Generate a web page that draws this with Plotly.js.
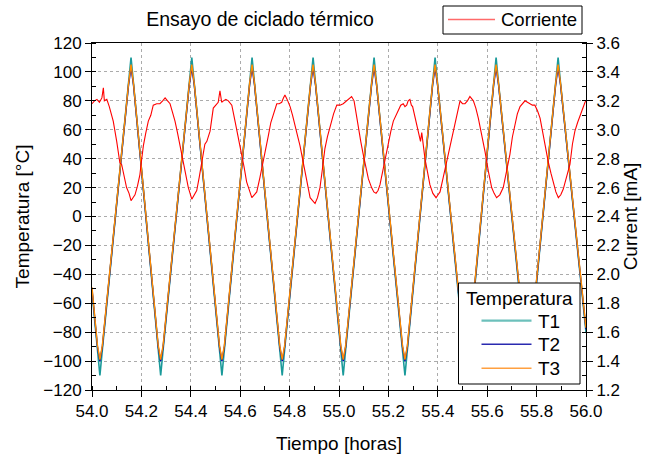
<!DOCTYPE html>
<html>
<head>
<meta charset="utf-8">
<script src="https://cdn.plot.ly/plotly-3.0.1.min.js"></script>
<style>html,body{margin:0;padding:0;background:#fff}#chart{width:646px;height:457px}</style>
</head>
<body>
<div id="chart"></div>
<script>
// Temperature series (hours, °C)
const tTemp = [54.0,
 54.022,54.032,54.042, 54.148,54.158,54.168,
 54.268,54.278,54.288, 54.394,54.404,54.414,
 54.516,54.526,54.536, 54.638,54.648,54.658,
 54.760,54.770,54.780, 54.885,54.895,54.905,
 55.007,55.017,55.027, 55.132,55.142,55.152,
 55.257,55.267,55.277, 55.379,55.389,55.399,
 55.506,55.516,55.526, 55.626,55.636,55.646,
 55.754,55.764,55.774, 55.877,55.887,55.897,
 56.0];
const T1 = [-52,
 -92,-110,-92, 92,110,92,
 -92,-110,-92, 92,110,92,
 -92,-110,-92, 92,110,92,
 -92,-110,-92, 92,110,92,
 -92,-110,-92, 92,110,92,
 -92,-110,-92, 92,110,92,
 -92,-110,-92, 92,110,92,
 -92,-110,-92, 92,110,92,
 -80];
const T2 = [-50,
 -90,-100,-90, 91,103,91,
 -90,-100,-90, 91,103,91,
 -90,-100,-90, 91,103,91,
 -90,-100,-90, 91,103,91,
 -90,-100,-90, 91,103,91,
 -90,-100,-90, 91,103,91,
 -90,-100,-90, 91,103,91,
 -90,-100,-90, 91,103,91,
 -78];
const T3 = [-49,
 -89,-99,-89, 92,105,92,
 -89,-99,-89, 92,105,92,
 -89,-99,-89, 92,105,92,
 -89,-99,-89, 92,105,92,
 -89,-99,-89, 92,105,92,
 -89,-99,-89, 92,105,92,
 -89,-99,-89, 92,105,92,
 -89,-99,-89, 92,105,92,
 -77];

// Current series (hours, mA)
const tCur = [54.000,54.010,54.020,54.030,54.040,54.046,54.050,54.060,54.070,54.086,54.100,54.113,54.120,54.130,54.140,54.150,54.158,54.166,54.174,54.184,54.194,54.200,54.208,54.218,54.228,54.238,54.248,54.262,54.275,54.286,54.296,54.306,54.316,54.326,54.336,54.346,54.356,54.366,54.377,54.390,54.404,54.414,54.424,54.434,54.444,54.450,54.457,54.465,54.478,54.491,54.500,54.511,54.518,54.525,54.532,54.542,54.552,54.566,54.579,54.592,54.606,54.616,54.626,54.636,54.647,54.657,54.667,54.680,54.694,54.704,54.714,54.724,54.734,54.748,54.758,54.768,54.775,54.781,54.790,54.802,54.812,54.822,54.832,54.842,54.852,54.862,54.872,54.883,54.893,54.903,54.913,54.923,54.933,54.943,54.953,54.964,54.978,54.991,55.004,55.017,55.031,55.041,55.051,55.061,55.070,55.078,55.088,55.098,55.108,55.119,55.132,55.141,55.150,55.158,55.166,55.176,55.186,55.193,55.200,55.210,55.220,55.230,55.240,55.250,55.260,55.267,55.274,55.280,55.287,55.293,55.298,55.306,55.314,55.322,55.330,55.335,55.340,55.348,55.358,55.368,55.380,55.393,55.401,55.409,55.422,55.436,55.450,55.463,55.476,55.490,55.500,55.510,55.520,55.530,55.544,55.554,55.564,55.578,55.591,55.605,55.618,55.628,55.638,55.651,55.665,55.678,55.692,55.702,55.712,55.722,55.733,55.743,55.753,55.763,55.773,55.783,55.793,55.804,55.814,55.820,55.827,55.837,55.847,55.858,55.868,55.878,55.888,55.898,55.908,55.920,55.935,55.945,55.955,55.966,55.976,55.986,55.996,56.000];
const current = [3.18,3.20,3.21,3.19,3.22,3.29,3.20,3.21,3.16,3.06,2.92,2.77,2.76,2.67,2.60,2.56,2.51,2.53,2.55,2.61,2.69,2.78,2.89,2.98,3.06,3.10,3.17,3.18,3.18,3.20,3.22,3.20,3.18,3.12,3.06,2.98,2.89,2.80,2.69,2.60,2.52,2.55,2.58,2.67,2.78,2.84,2.90,2.92,2.99,3.15,3.17,3.19,3.27,3.19,3.20,3.21,3.20,3.17,3.06,2.95,2.85,2.74,2.64,2.58,2.53,2.55,2.57,2.67,2.78,2.88,2.96,3.05,3.11,3.18,3.18,3.19,3.22,3.24,3.21,3.16,3.10,3.02,2.96,2.89,2.80,2.71,2.62,2.53,2.51,2.49,2.53,2.60,2.73,2.87,2.95,3.02,3.11,3.17,3.17,3.18,3.20,3.21,3.23,3.20,3.10,3.02,2.92,2.83,2.74,2.66,2.60,2.57,2.56,2.58,2.62,2.71,2.80,2.86,2.92,2.99,3.06,3.10,3.14,3.17,3.18,3.16,3.17,3.20,3.21,3.17,3.16,3.10,3.03,2.98,2.92,2.98,2.90,2.80,2.71,2.62,2.56,2.53,2.55,2.57,2.67,2.78,2.90,3.01,3.11,3.20,3.18,3.18,3.20,3.23,3.20,3.15,3.08,2.97,2.85,2.71,2.60,2.56,2.53,2.55,2.60,2.71,2.83,2.95,3.04,3.11,3.16,3.18,3.20,3.19,3.18,3.17,3.17,3.13,3.08,3.02,2.96,2.87,2.78,2.70,2.64,2.57,2.53,2.55,2.59,2.67,2.76,2.90,2.99,3.05,3.10,3.15,3.19,3.20];

const seriesNames = ['Corriente', 'T1', 'T2', 'T3'];
const seriesColors = ['#ff0000', '#1a9a9a', '#0000a8', '#ff8c00'];
const legendTitle = 'Temperatura';

const FONT = 'Liberation Sans, Arial, sans-serif';
const L = 92, R = 586, T = 43, B = 390;
const px = v => (v - L) / (R - L);
const py = v => 1 - (v - T) / (B - T);

const traces = [
  {x: tCur, y: current, yaxis: 'y2', type: 'scatter', mode: 'lines', name: seriesNames[0],
   line: {color: seriesColors[0], width: 1.1}},
  {x: tTemp, y: T1, type: 'scatter', mode: 'lines', name: seriesNames[1],
   line: {color: seriesColors[1], width: 1.6}},
  {x: tTemp, y: T2, type: 'scatter', mode: 'lines', name: seriesNames[2],
   line: {color: seriesColors[2], width: 1.4}},
  {x: tTemp, y: T3, type: 'scatter', mode: 'lines', name: seriesNames[3],
   line: {color: seriesColors[3], width: 1.4}}
];

// Legend boxes drawn as shapes + annotations (two separate legends as in the original)
const shapes = [
  {type: 'rect', xref: 'paper', yref: 'paper', x0: px(443), x1: px(582), y0: py(6), y1: py(34),
   line: {color: '#000', width: 1}, fillcolor: '#fff', layer: 'above'},
  {type: 'line', xref: 'paper', yref: 'paper', x0: px(448), x1: px(495), y0: py(19.5), y1: py(19.5),
   line: {color: '#ff6a6a', width: 1.6}, layer: 'above'},
  {type: 'rect', xref: 'paper', yref: 'paper', x0: px(458.5), x1: px(580), y0: py(283), y1: py(384),
   line: {color: '#000', width: 1}, fillcolor: '#fff', layer: 'above'}
];
const annotations = [
  {text: seriesNames[0], xref: 'paper', yref: 'paper', x: px(499), y: py(20), xanchor: 'left', yanchor: 'middle',
   showarrow: false, font: {size: 18.5, family: FONT, color: '#000'}},
  {text: legendTitle, xref: 'paper', yref: 'paper', x: px(519.5), y: py(298.5), xanchor: 'center', yanchor: 'middle',
   showarrow: false, font: {size: 19, family: FONT, color: '#000'}}
];
const legY = [320.7, 344.3, 368.3];
const legLineColors = ['#6cc0bb', '#2a2ab0', '#ffa040'];
for (let i = 0; i < 3; i++) {
  shapes.push({type: 'line', xref: 'paper', yref: 'paper', x0: px(481.5), x1: px(531.5),
    y0: py(legY[i]), y1: py(legY[i]), line: {color: legLineColors[i], width: i === 0 ? 2.2 : 1.4}, layer: 'above'});
  annotations.push({text: seriesNames[i + 1], xref: 'paper', yref: 'paper', x: px(535.5), y: py(legY[i] + 0.5),
    xanchor: 'left', yanchor: 'middle', showarrow: false, font: {size: 19, family: FONT, color: '#000'}});
}

const grid = {showgrid: true, gridcolor: '#ababab', griddash: 'dot', gridwidth: 1};

const layout = {
  width: 646, height: 457,
  margin: {l: L, r: 646 - R, t: T, b: 457 - B},
  paper_bgcolor: '#fff', plot_bgcolor: '#fff',
  font: {family: FONT, size: 16, color: '#000'},
  showlegend: false,
  title: {text: 'Ensayo de ciclado térmico', x: px(260), xref: 'paper', xanchor: 'center',
          y: 1 - 19/457, yref: 'container', yanchor: 'middle', font: {size: 19.5, family: FONT}},
  xaxis: Object.assign({
    range: [54.0, 56.0], dtick: 0.2, tick0: 54.0, tickformat: '.1f',
    ticks: 'outside', ticklen: 6, tickcolor: '#000', tickwidth: 1,
    showline: true, linecolor: '#000', linewidth: 1, mirror: true, zeroline: false,
    tickfont: {size: 17},
    title: {text: 'Tiempo [horas]', font: {size: 19}, standoff: 16},
    minor: {dtick: 0.1, ticks: 'inside', ticklen: 4, tickcolor: '#000', showgrid: false}
  }, grid),
  yaxis: Object.assign({
    range: [-120, 120], dtick: 20, tick0: 0,
    ticks: 'outside', ticklen: 6, tickcolor: '#000', tickwidth: 1,
    showline: true, linecolor: '#000', linewidth: 1, zeroline: false,
    tickfont: {size: 17},
    title: {text: 'Temperatura [°C]', font: {size: 19}, standoff: 8},
    minor: {dtick: 10, ticks: 'inside', ticklen: 4, tickcolor: '#000', showgrid: false}
  }, grid),
  yaxis2: {
    overlaying: 'y', side: 'right', range: [1.2, 3.6], dtick: 0.2, tick0: 1.2, tickformat: '.1f',
    ticks: 'outside', ticklen: 6, tickcolor: '#000', tickwidth: 1,
    showline: true, linecolor: '#000', linewidth: 1, showgrid: false, zeroline: false,
    tickfont: {size: 17},
    title: {text: 'Current [mA]', font: {size: 19}, standoff: 4},
    minor: {dtick: 0.1, ticks: 'inside', ticklen: 4, tickcolor: '#000', showgrid: false}
  },
  shapes: shapes,
  annotations: annotations
};

Plotly.newPlot('chart', traces, layout, {displayModeBar: false, staticPlot: true});
</script>
</body>
</html>
